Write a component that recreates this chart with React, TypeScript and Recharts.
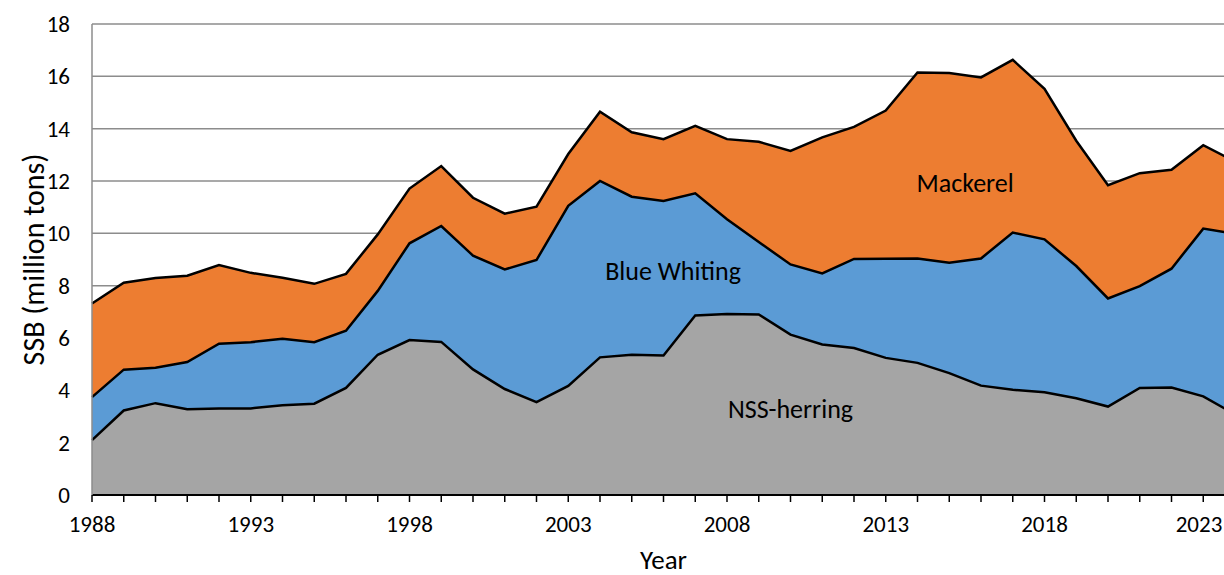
import React from 'react';
import { ComposedChart, Area, Line, XAxis, YAxis, CartesianGrid, ReferenceDot } from 'recharts';

// SSB per stock, million tons
const years = [
  1988, 1989, 1990, 1991, 1992, 1993, 1994, 1995, 1996, 1997, 1998, 1999,
  2000, 2001, 2002, 2003, 2004, 2005, 2006, 2007, 2008, 2009, 2010, 2011,
  2012, 2013, 2014, 2015, 2016, 2017, 2018, 2019, 2020, 2021, 2022, 2023, 2024,
];
const herring = [
  2.1, 3.23, 3.51, 3.28, 3.31, 3.31, 3.43, 3.49, 4.09, 5.36, 5.92, 5.85,
  4.8, 4.05, 3.55, 4.17, 5.26, 5.36, 5.33, 6.86, 6.92, 6.9, 6.13, 5.75,
  5.62, 5.24, 5.05, 4.66, 4.18, 4.02, 3.93, 3.7, 3.38, 4.09, 4.11, 3.77, 3.08,
];
const blueWhiting = [
  1.64, 1.56, 1.35, 1.8, 2.47, 2.53, 2.54, 2.35, 2.19, 2.44, 3.7, 4.43,
  4.35, 4.57, 5.43, 6.88, 6.74, 6.04, 5.91, 4.67, 3.62, 2.77, 2.68, 2.72,
  3.4, 3.79, 3.99, 4.22, 4.86, 6.01, 5.84, 5.05, 4.13, 3.89, 4.54, 6.41, 6.9,
];
const mackerel = [
  3.58, 3.32, 3.43, 3.3, 3.01, 2.65, 2.33, 2.23, 2.17, 2.16, 2.09, 2.29,
  2.21, 2.13, 2.04, 1.98, 2.65, 2.46, 2.36, 2.58, 3.06, 3.83, 4.34, 5.2,
  5.05, 5.66, 7.11, 7.25, 6.92, 6.6, 5.75, 4.79, 4.33, 4.32, 3.78, 3.19, 2.76,
];

const labelYears = [1988, 1993, 1998, 2003, 2008, 2013, 2018, 2023];
const yTicks = [0, 2, 4, 6, 8, 10, 12, 14, 16, 18];

// in-chart series names, placed in data units
const seriesLabels = [
  { text: 'Mackerel', year: 2015.5, value: 11.95 },
  { text: 'Blue Whiting', year: 2006.3, value: 8.58 },
  { text: 'NSS-herring', year: 2010, value: 3.3 },
];

const data = years.map((year, i) => ({
  year,
  herring: herring[i],
  blueWhiting: blueWhiting[i],
  mackerel: mackerel[i],
  // cumulative tops, used for the black outlines drawn over the fills
  edge1: herring[i],
  edge2: herring[i] + blueWhiting[i],
  edge3: herring[i] + blueWhiting[i] + mackerel[i],
}));

const VIEW_W = 1224;

const YearTick = (props: any) => {
  const { x, y, payload } = props;
  if (!labelYears.includes(payload.value)) return null;
  // keep the last label inside the visible frame
  const tx = Math.min(x, VIEW_W - 25);
  return (
    <text x={tx} y={y} dy="0.71em" textAnchor="middle" fontSize={23} fill="#000">
      {payload.value}
    </text>
  );
};

export default function App() {
  return (
    <div
      style={{
        position: 'absolute',
        left: 0,
        top: 0,
        width: VIEW_W,
        height: 575,
        overflow: 'hidden',
        background: '#fff',
        fontFamily: 'Carlito, Lato, sans-serif',
      }}
    >
      <ComposedChart width={1240} height={575} data={data} margin={{ top: 24, right: 5, bottom: 0, left: 0 }}>
        <CartesianGrid vertical={false} stroke="#8c8c8c" strokeWidth={1.5} />
        <XAxis
          type="number"
          dataKey="year"
          domain={[1988, 2024]}
          ticks={years}
          interval={0}
          height={80}
          tick={<YearTick />}
          tickSize={7}
          tickMargin={14}
          tickLine={{ stroke: '#000', strokeWidth: 1.5 }}
          axisLine={{ stroke: '#000', strokeWidth: 2 }}
          label={{ value: 'Year', position: 'insideBottom', offset: 6, fontSize: 27, fill: '#000' }}
        />
        <YAxis
          type="number"
          domain={[0, 18]}
          ticks={yTicks}
          interval={0}
          width={92}
          tickSize={0}
          tickMargin={22}
          tickLine={false}
          tick={{ fontSize: 23, fill: '#000' }}
          axisLine={{ stroke: '#8c8c8c', strokeWidth: 1.5 }}
          label={{
            value: 'SSB (million tons)',
            angle: -90,
            position: 'insideLeft',
            offset: 33,
            fontSize: 30,
            fill: '#000',
            style: { textAnchor: 'middle' },
          }}
        />
        <Area type="linear" dataKey="herring" stackId="1" fill="#A5A5A5" fillOpacity={1} stroke="none" isAnimationActive={false} />
        <Area type="linear" dataKey="blueWhiting" stackId="1" fill="#5B9BD5" fillOpacity={1} stroke="none" isAnimationActive={false} />
        <Area type="linear" dataKey="mackerel" stackId="1" fill="#ED7D31" fillOpacity={1} stroke="none" isAnimationActive={false} />
        <Line type="linear" dataKey="edge1" stroke="#000" strokeWidth={2.5} dot={false} isAnimationActive={false} />
        <Line type="linear" dataKey="edge2" stroke="#000" strokeWidth={2.5} dot={false} isAnimationActive={false} />
        <Line type="linear" dataKey="edge3" stroke="#000" strokeWidth={2.5} dot={false} isAnimationActive={false} />
        {seriesLabels.map((l) => (
          <ReferenceDot
            key={l.text}
            x={l.year}
            y={l.value}
            r={0}
            stroke="none"
            fill="none"
            label={{ value: l.text, position: 'center', fontSize: 26, fill: '#000' }}
          />
        ))}
      </ComposedChart>
    </div>
  );
}
